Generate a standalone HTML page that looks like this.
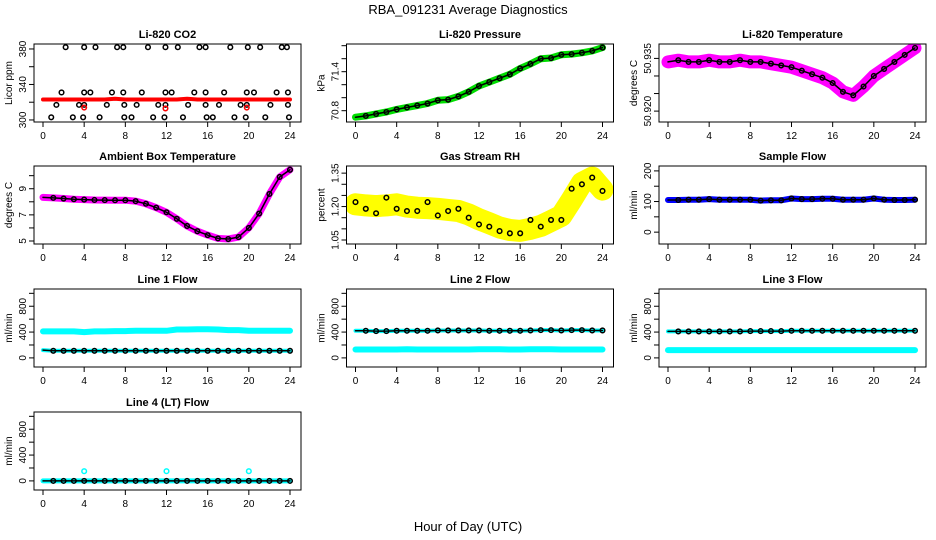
<!DOCTYPE html>
<html><head><meta charset="utf-8"><style>
html,body{margin:0;padding:0;background:#fff;}
svg{display:block;font-family:"Liberation Sans",sans-serif;}
</style></head><body>
<svg id="chart" width="936" height="540" viewBox="0 0 936 540">
<text x="468" y="14" text-anchor="middle" font-size="13">RBA_091231  Average Diagnostics</text>
<text x="468" y="531" text-anchor="middle" font-size="13">Hour of Day (UTC)</text>
</svg>
<script>
const hours = [0,1,2,3,4,5,6,7,8,9,10,11,12,13,14,15,16,17,18,19,20,21,22,23,24];
const xTicks = [0,4,8,12,16,20,24];
// CO2
const co2Band = [323,323,323,323,323,323,323,324,323,323,323,323,323,323,324,323,323,323,323,323,323,323,323,323,323];
const co2HiT = [2.2,4.0,5.1,7.2,7.8,10.2,11.9,13.1,15.2,15.8,18.2,19.9,21.1,23.2,23.7];
const co2MidT = [1.8,4.0,4.6,6.7,7.8,9.6,11.9,12.5,14.7,15.8,17.6,19.8,20.5,22.7,23.8];
const co2LowT = [1.3,3.5,4.0,6.2,7.9,9.1,11.2,11.9,14.1,15.8,17.1,19.2,19.8,22.1,23.8];
const co2MinT = [0.8,2.9,3.9,5.5,7.9,8.6,10.7,11.8,13.6,15.9,16.5,18.6,19.7,21.6,23.9];
const co2Levels = [382,331,317,303];
const co2RedT = [4.0,11.9,19.8];
const co2RedV = [314,313,314];
// Pressure
const presVals = [70.70,70.72,70.75,70.78,70.82,70.85,70.88,70.91,70.96,70.97,71.02,71.09,71.18,71.24,71.30,71.36,71.45,71.52,71.60,71.61,71.66,71.67,71.69,71.72,71.77];
// Li-820 temperature
const ltempVals = [50.934,50.9345,50.934,50.934,50.9345,50.934,50.934,50.9345,50.934,50.934,50.9335,50.933,50.9325,50.9315,50.9305,50.9295,50.928,50.9255,50.9245,50.927,50.930,50.932,50.934,50.936,50.938];
// Ambient box temperature
const ambVals = [8.34,8.3,8.25,8.2,8.17,8.14,8.13,8.12,8.12,8.05,7.85,7.55,7.2,6.7,6.15,5.75,5.45,5.2,5.15,5.3,6.0,7.1,8.6,9.9,10.45];
// Gas stream RH
const rhVals = [1.21,1.205,1.202,1.205,1.21,1.2,1.195,1.193,1.19,1.185,1.18,1.165,1.143,1.125,1.106,1.095,1.091,1.1,1.113,1.135,1.158,1.23,1.306,1.33,1.276];
const rhDotVals = [1.22,1.19,1.17,1.24,1.19,1.18,1.18,1.22,1.16,1.18,1.19,1.15,1.12,1.11,1.09,1.08,1.08,1.14,1.11,1.14,1.14,1.28,1.30,1.33,1.27];
// Sample flow
const sampleVals = [105,105,106,106,108,106,106,106,106,103,104,104,110,108,108,109,109,106,106,106,110,106,105,105,106];
// Line flows
const line1Hi = [410,410,410,410,400,410,410,415,415,420,420,420,420,440,440,445,445,440,430,430,420,420,420,420,420];
const line1Lo = [120,110,110,110,110,110,110,110,110,110,110,110,110,110,110,110,110,110,110,110,110,110,110,110,110];
const line2Hi = [420,420,415,415,420,420,420,420,425,425,425,425,425,420,420,420,420,425,430,430,425,430,430,425,425];
const line2Lo = [130,130,130,130,130,135,130,130,130,130,130,130,135,135,135,130,130,135,135,135,130,130,130,130,130];
const line3Hi = [410,410,410,410,410,410,410,410,415,415,415,415,420,420,420,420,420,420,420,420,420,420,420,420,420];
const line3Lo = [120,120,120,120,120,120,120,120,120,120,120,120,120,120,120,120,120,120,120,120,120,120,120,120,120];
const line4Vals = [0,0,0,0,0,0,0,0,0,0,0,0,0,0,0,0,0,0,0,0,0,0,0,0,0];
const line4SpikeT = [4,12,20];
const line4SpikeV = [150,150,150];

const NS="http://www.w3.org/2000/svg";
const svg=document.getElementById('chart');
function mk(tag,attrs,parent){const e=document.createElementNS(NS,tag);for(const k in attrs)e.setAttribute(k,attrs[k]);(parent||svg).appendChild(e);return e;}
const rowTop=[44,166,289,412];
function panel(col,row,title,ylab,ylo,yhi,ticks,labels,name){
  const g=mk('g',{});
  
  
  const L=34+312.5*col,R=301+312.5*col,T=rowTop[row],B=T+78;
  const x0=43+312.5*col,x24=290+312.5*col;
  const X=t=>x0+(x24-x0)*t/24;
  const Y=v=>B-(v-ylo)/(yhi-ylo)*(B-T);
  const tt=mk('text',{x:(L+R)/2,y:T-6,'text-anchor':'middle','font-size':11,'font-weight':'bold'},g);
  tt.textContent=title;
  
  
  const yl=mk('text',{x:0,y:0,'text-anchor':'middle','font-size':10,transform:`translate(${L-22},${(T+B)/2}) rotate(-90)`},g);
  yl.textContent=ylab;
  
  
  for(const t of xTicks){
    mk('line',{x1:X(t),x2:X(t),y1:B,y2:B+5,stroke:'#000'},g);
    const tx=mk('text',{x:X(t),y:B+17,'text-anchor':'middle','font-size':10},g);
    tx.textContent=t;
    
    
  }
  ticks.forEach((v,i)=>{
    mk('line',{x1:L-5,x2:L,y1:Y(v),y2:Y(v),stroke:'#000'},g);
    if(labels[i]){
      const ty=mk('text',{x:0,y:0,'text-anchor':'middle','font-size':10,transform:`translate(${L-8},${Y(v)}) rotate(-90)`},g);
      ty.textContent=labels[i];
      
      
    }
  });
  const clip='c'+col+row;
  const cp=mk('clipPath',{id:clip},g);mk('rect',{x:L,y:T,width:R-L,height:B-T},cp);
  const pg=mk('g',{'clip-path':`url(#${clip})`},g);
  mk('rect',{x:L,y:T,width:R-L,height:B-T,fill:'none',stroke:'#000'},g);
  return {X,Y,pg};
}
function band(p,vals,color,w,name){
  const d=vals.map((v,i)=>(i?'L':'M')+p.X(hours[i]).toFixed(1)+' '+p.Y(v).toFixed(1)).join(' ');
  const e=mk('path',{d,fill:'none',stroke:color,'stroke-width':w,'stroke-linejoin':'round','stroke-linecap':'round'},p.pg);
  
  
}
function dots(p,ts,vs,color,name,r){
  ts.forEach((t,i)=>{
    const c=mk('circle',{cx:p.X(t),cy:p.Y(vs[i]),r:r||2.3,fill:'none',stroke:color,'stroke-width':1.5},p.pg);
    
    
  });
}
function denseDots(p,vals,color,name){
  band(p,vals,color,1.5,name+'-line');
  dots(p,hours.slice(1),vals.slice(1),color,name);
}
// Row 1
let p=panel(0,0,'Li-820 CO2','Licor ppm',297.7,385.6,[300,320,340,360,380],['300','','340','','380'],'co2');
band(p,co2Band,'#ff0000',4,'co2-band');
[co2HiT,co2MidT,co2LowT,co2MinT].forEach((ts,k)=>dots(p,ts,ts.map(()=>co2Levels[k]),'#000','co2-point'));
dots(p,co2RedT,co2RedV,'#ff0000','co2-red-point');
p=panel(1,0,'Li-820 Pressure','kPa',70.626,71.826,[70.8,71.0,71.2,71.4,71.6,71.8],['70.8','','','71.4','',''],'pressure');
band(p,presVals,'#00dd00',7,'pressure-band');
denseDots(p,presVals,'#000','pressure-point');
p=panel(2,0,'Li-820 Temperature','degrees C',50.9169,50.9391,[50.920,50.925,50.930,50.935],['50.920','','','50.935'],'li-temp');
band(p,ltempVals,'#ff00ff',13,'li-temp-band');
denseDots(p,ltempVals,'#000','li-temp-point');
// Row 2
p=panel(0,1,'Ambient Box Temperature','degrees C',4.77,10.74,[5,6,7,8,9,10],['5','','7','','9',''],'ambient');
band(p,ambVals,'#ff00ff',7,'ambient-band');
denseDots(p,ambVals,'#000','ambient-point');
p=panel(1,1,'Gas Stream RH','percent',1.032,1.382,[1.05,1.10,1.15,1.20,1.25,1.30,1.35],['1.05','','','1.20','','','1.35'],'rh');
band(p,rhVals,'#ffff00',22,'rh-band');
dots(p,hours,rhDotVals,'#000','rh-point');
p=panel(2,1,'Sample Flow','ml/min',-38.7,216,[0,50,100,150,200],['0','','100','','200'],'sample-flow');
band(p,sampleVals,'#0000ff',6,'sample-flow-band');
denseDots(p,sampleVals,'#000','sample-flow-point');
// Row 3 & 4 flows
const fT=[0,200,400,600,800,1000],fL=['0','','400','','800',''];
p=panel(0,2,'Line 1 Flow','ml/min',-141,1067,fT,fL,'line1');
band(p,line1Hi,'#00ffff',6,'line1-band-high');
band(p,line1Lo,'#00ffff',4,'line1-band-low');
denseDots(p,line1Lo,'#000','line1-point');
p=panel(1,2,'Line 2 Flow','ml/min',-141,1067,fT,fL,'line2');
band(p,line2Lo,'#00ffff',6,'line2-band-low');
band(p,line2Hi,'#00ffff',4,'line2-band-high');
denseDots(p,line2Hi,'#000','line2-point');
p=panel(2,2,'Line 3 Flow','ml/min',-141,1067,fT,fL,'line3');
band(p,line3Lo,'#00ffff',6,'line3-band-low');
band(p,line3Hi,'#00ffff',4,'line3-band-high');
denseDots(p,line3Hi,'#000','line3-point');
p=panel(0,3,'Line 4 (LT) Flow','ml/min',-141,1067,fT,fL,'line4');
band(p,line4Vals,'#00ffff',5,'line4-band');
denseDots(p,line4Vals,'#000','line4-point');
dots(p,line4SpikeT,line4SpikeV,'#00ffff','line4-spike');
</script>
</body></html>
